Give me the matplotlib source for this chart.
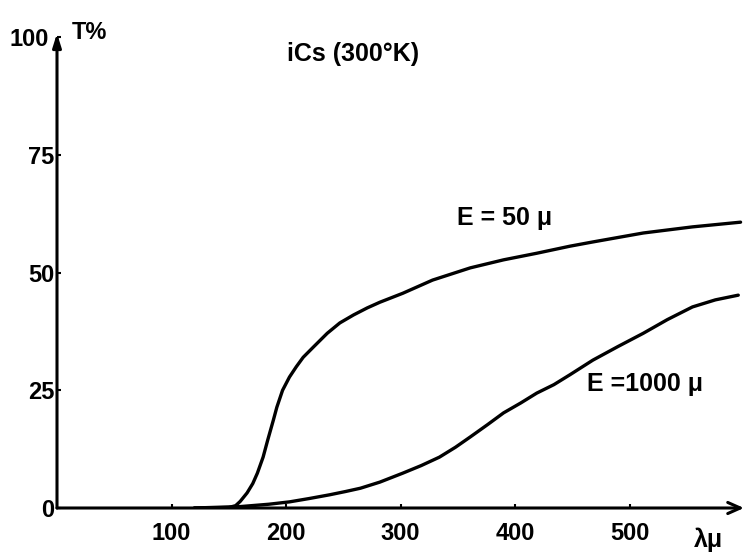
import matplotlib
matplotlib.use("Agg")
import matplotlib.pyplot as plt

# Data
lam_50 = [120, 150, 156, 160, 166, 171, 175, 180, 184, 189, 192, 197, 203, 209, 215, 224, 236, 247,
          259, 271, 282, 302, 328, 361, 390, 419, 448, 468, 512, 555, 597]
T_50 = [0, 0.1, 0.5, 1.4, 3.2, 5.2, 7.4, 10.8, 14.4, 18.7, 21.4, 25.0, 27.8, 30.0, 32.0, 34.2, 37.1, 39.3,
        41.0, 42.5, 43.7, 45.6, 48.4, 51.0, 52.7, 54.1, 55.6, 56.5, 58.4, 59.7, 60.7]

lam_1000 = [120, 160, 185, 203, 220, 238, 252, 265, 282, 302, 318, 334, 348, 361, 376, 390, 405, 419,
            434, 448, 468, 490, 512, 533, 555, 575, 595]
T_1000 = [0, 0.3, 0.8, 1.3, 2.0, 2.8, 3.5, 4.2, 5.5, 7.4, 9.0, 10.8, 12.9, 15.1, 17.7, 20.2, 22.3, 24.4,
          26.2, 28.3, 31.4, 34.3, 37.1, 40.0, 42.7, 44.2, 45.2]

x_ticks = [100, 200, 300, 400, 500]
x_tick_labels = ["100", "200", "300", "400", "500"]
y_ticks = [0, 25, 50, 75, 100]
y_tick_labels = ["0", "25", "50", "75", "100"]

title_text = "iCs (300°K)"
label_50 = "E = 50 μ"
label_1000 = "E =1000 μ"

FONT = ["Liberation Sans", "DejaVu Sans"]

fig = plt.figure(figsize=(7.44, 5.57), dpi=100)
W, H = 744, 557
ax = fig.add_axes([57 / W, 49 / H, 687 / W, 475.6 / H])
ax.set_xlim(0, 600)
ax.set_ylim(0, 101)

for s in ax.spines.values():
    s.set_visible(False)

ax.plot(lam_50, T_50, color="black", lw=2.4, solid_capstyle="round", solid_joinstyle="round")
ax.plot(lam_1000, T_1000, color="black", lw=2.4, solid_capstyle="round", solid_joinstyle="round")

# axes with arrows
ax.annotate("", xy=(1.0, 0), xytext=(0, 0), xycoords="axes fraction",
            arrowprops=dict(arrowstyle="->,head_length=0.9,head_width=0.4", lw=2.2, color="black",
                            shrinkA=0, shrinkB=0))
ax.annotate("", xy=(0, 0.998), xytext=(0, 0), xycoords="axes fraction",
            arrowprops=dict(arrowstyle="-|>,head_length=0.8,head_width=0.25", lw=2.2, color="black",
                            shrinkA=0, shrinkB=0))

ax.set_xticks(x_ticks)
ax.set_xticklabels(x_tick_labels, family=FONT, fontweight="bold", fontsize=17)
ax.set_yticks(y_ticks)
ax.set_yticklabels(y_tick_labels, family=FONT, fontweight="bold", fontsize=17)
ax.tick_params(axis="x", direction="in", length=3, width=1.5, pad=10)
ax.tick_params(axis="y", direction="in", length=3, width=1.5, pad=2)
# the top label sits a little further left, clear of the arrowhead
ax.get_yticklabels()[-1].set_x(-0.008)

ax.text(201, 96.4, title_text, family=FONT, fontweight="bold", fontsize=18, ha="left", va="center")
ax.text(349, 61.5, label_50, family=FONT, fontweight="bold", fontsize=18, ha="left", va="center")
ax.text(463, 26.3, label_1000, family=FONT, fontweight="bold", fontsize=18, ha="left", va="center")
ax.text(13, 101, "T%", family=FONT, fontweight="bold", fontsize=17, ha="left", va="center", clip_on=False)
ax.text(569, -6.8, "λμ", family=FONT, fontweight="bold", fontsize=18, ha="center", va="center", clip_on=False)

fig.savefig("out.png", dpi=100, facecolor="white")
